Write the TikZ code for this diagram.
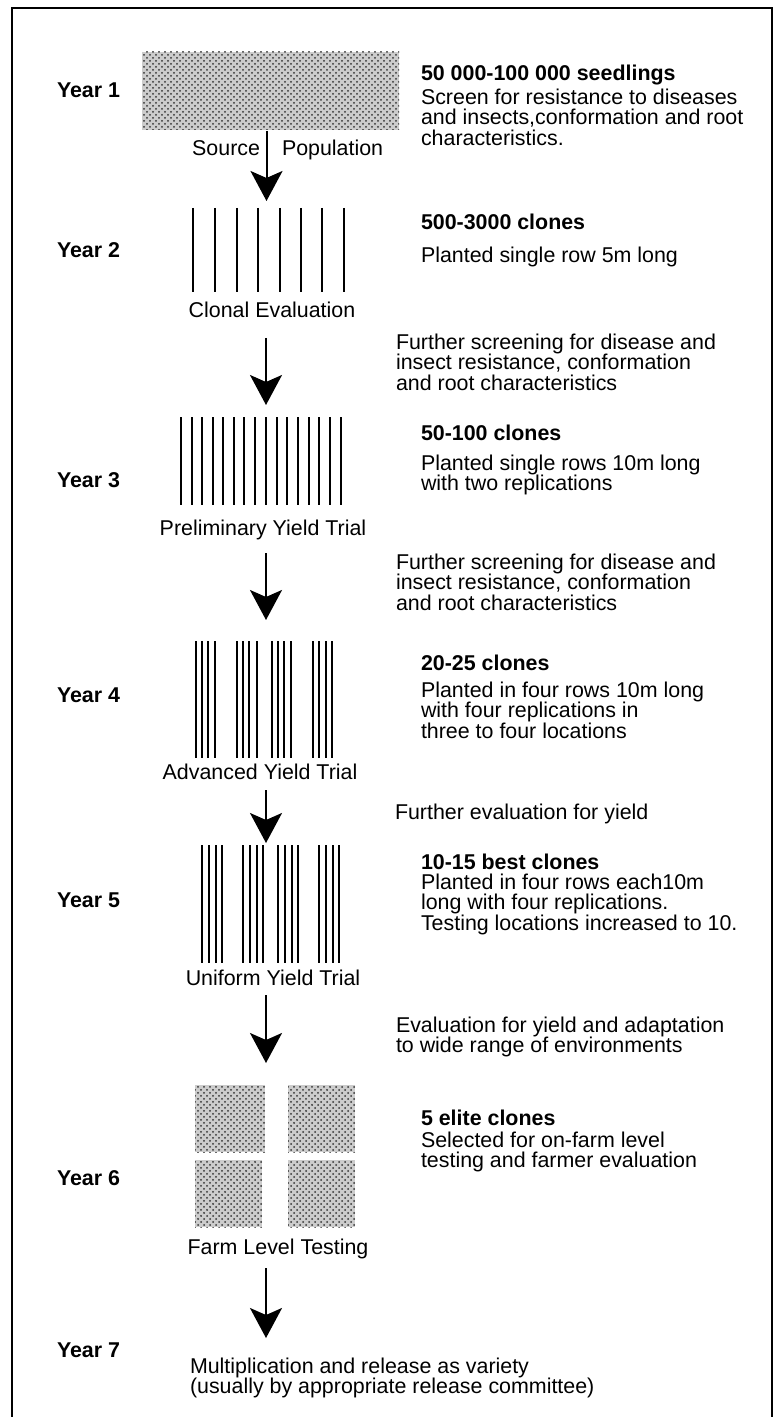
\documentclass[tikz,border=0pt]{standalone}
\usepackage{fontspec}
\setmainfont{Liberation Sans}
\usetikzlibrary{arrows.meta,patterns}
\lineskiplimit=-6pt
\begin{document}
\begin{tikzpicture}[x=0.5pt,y=-0.5pt,
  every node/.style={inner sep=0pt, outer sep=0pt},
  txt/.style={font=\fontsize{10.7pt}{10.15pt}\selectfont},
  yr/.style={font=\fontsize{10.7pt}{10.15pt}\selectfont\bfseries, anchor=base west},
  head/.style={font=\fontsize{10.7pt}{10.15pt}\selectfont\bfseries, anchor=base west},
  body/.style={txt, anchor=north west, align=left},
  capt/.style={txt, anchor=base},
  flow/.style={line width=1pt, -{Stealth[length=15pt,width=16pt,inset=3.5pt]}},
  row/.style={line width=1.05pt},
  wrow/.style={line width=1.35pt},
  plotbg/.style={fill=black!20},
  plotdots/.style={pattern=crosshatch dots, pattern color=black!80},
]
\useasboundingbox (0,0) rectangle (775,1417);
% frame
\draw[line width=0.9pt] (12,1417) -- (12,8) -- (772,8) -- (772,1417);

% ---------- Year 1
\node[yr] (y1) at (57,97.5) {Year 1};
\fill[plotbg] (142,52) rectangle (399,130);
\fill[plotdots] (142,52) rectangle (399,130);
\node[capt, anchor=base east] (src) at (260,155.5) {Source};
\node[capt, anchor=base west] (pop) at (282,155.5) {Population};
\node[head] (h1) at (421,80.5) {50 000-100 000 seedlings};
\node[body] (b1) at (421,89) {Screen for resistance to diseases\\and insects,conformation and root\\characteristics.};
\coordinate (a1s) at (266.5,131);
\coordinate (a1e) at (266.5,201);
\draw[flow] (a1s) -- (a1e);

% ---------- Year 2
\node[yr] (y2) at (57,257.5) {Year 2};
\foreach \x in {193,215,237,258,280,301,322,344}
  \draw[row] (\x,208) -- (\x,292);
\node[capt] (c2) at (272,317.5) {Clonal Evaluation};
\node[head] (h2) at (421,229.5) {500-3000 clones};
\node[body] (b2) at (421,247) {Planted single row 5m long};
\node[body] (n2) at (396,334) {Further screening for disease and\\insect resistance, conformation\\and root characteristics};
\coordinate (a2s) at (266,338);
\coordinate (a2e) at (266,405);
\draw[flow] (a2s) -- (a2e);

% ---------- Year 3
\node[yr] (y3) at (57,487.5) {Year 3};
\foreach \x in {181,192,202,213,223,234,244,255,266,277,287,298,309,319,330,341}
  \draw[row] (\x,417) -- (\x,505);
\node[capt] (c3) at (263,535.5) {Preliminary Yield Trial};
\node[head] (h3) at (421,440.5) {50-100 clones};
\node[body] (b3) at (421,455) {Planted single rows 10m long\\with two replications};
\node[body] (n3) at (396,554) {Further screening for disease and\\insect resistance, conformation\\and root characteristics};
\coordinate (a3s) at (266,553);
\coordinate (a3e) at (266,620);
\draw[flow] (a3s) -- (a3e);

% ---------- Year 4
\node[yr] (y4) at (57,702.5) {Year 4};
\foreach \x in {196,202,208,215, 237,243,249,257, 272,278,284,291, 313,319,326,332}
  \draw[wrow] (\x,641) -- (\x,758);
\node[capt] (c4) at (260,779.5) {Advanced Yield Trial};
\node[head] (h4) at (421,670.5) {20-25 clones};
\node[body] (b4) at (421,682) {Planted in four rows 10m long\\with four replications in\\three to four locations};
\node[txt, anchor=base west] (n4) at (395,819.5) {Further evaluation for yield};
\coordinate (a4s) at (266,790);
\coordinate (a4e) at (266,843);
\draw[flow] (a4s) -- (a4e);

% ---------- Year 5
\node[yr] (y5) at (57,907.5) {Year 5};
\foreach \x in {202,209,216,222, 243,250,257,263, 278,285,292,298, 319,326,333,339}
  \draw[wrow] (\x,845) -- (\x,963);
\node[capt] (c5) at (273,985.5) {Uniform Yield Trial};
\node[head] (h5) at (421,869.5) {10-15 best clones};
\node[body] (b5) at (421,874) {Planted in four rows each10m\\long with four replications.\\Testing locations increased to 10.};
\node[body] (n5) at (396,1017) {Evaluation for yield and adaptation\\to wide range of environments};
\coordinate (a5s) at (266,995);
\coordinate (a5e) at (266,1063);
\draw[flow] (a5s) -- (a5e);

% ---------- Year 6
\node[yr] (y6) at (57,1185.5) {Year 6};
\foreach \a/\b/\c/\d in {195/1085/265/1152, 288/1085/355/1152, 195/1160/262/1227, 288/1160/355/1227}{
  \fill[plotbg] (\a,\b) rectangle (\c,\d);
  \fill[plotdots] (\a,\b) rectangle (\c,\d);
}
\node[capt] (c6) at (278,1254.5) {Farm Level Testing};
\node[head] (h6) at (421,1125.5) {5 elite clones};
\node[body] (b6) at (421,1132) {Selected for on-farm level\\testing and farmer evaluation};
\coordinate (a6s) at (266,1268);
\coordinate (a6e) at (266,1338);
\draw[flow] (a6s) -- (a6e);

% ---------- Year 7
\node[yr] (y7) at (57,1357.5) {Year 7};
\node[body] (b7) at (190,1358) {Multiplication and release as variety\\(usually by appropriate release committee)};
\end{tikzpicture}
\end{document}
